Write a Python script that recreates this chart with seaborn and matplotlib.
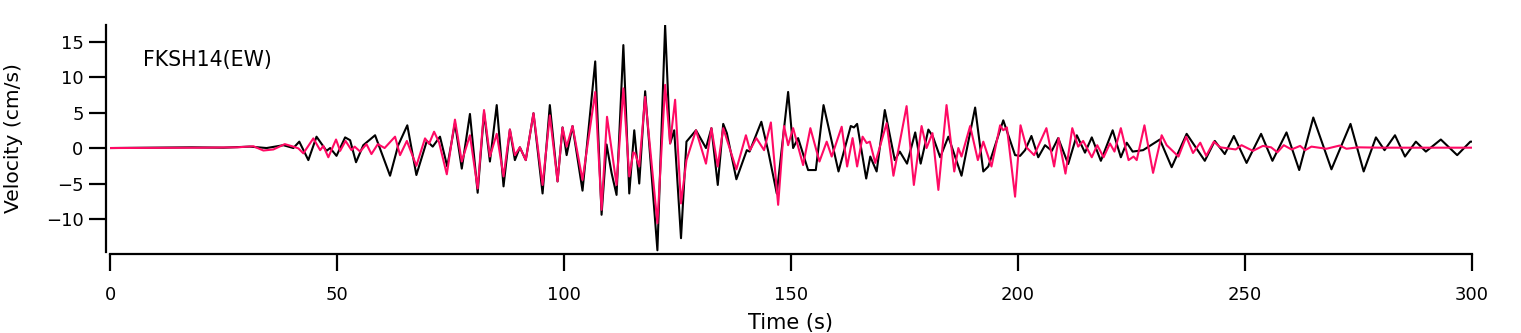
import numpy as np
import pandas as pd
import matplotlib
matplotlib.use("Agg")
import matplotlib.pyplot as plt
import seaborn as sns

# peaks / troughs (time s, velocity cm/s)
t_black = [0, 10, 18, 25, 30.8, 34.5, 38.2, 40.4, 41.7, 43.7, 45.5, 47.7, 48.5, 49.9,
           51.8, 52.9, 54.2, 55.8, 58.4, 61.7, 63.5, 65.5, 67.5, 69.8, 71.1, 72.7,
           74.3, 76.0, 77.5, 79.3, 81.0, 82.4, 83.7, 85.2, 86.7, 88.1, 89.2, 90.3,
           91.6, 93.3, 95.3, 96.9, 98.6, 99.7, 100.6, 101.9, 104.1, 106.9, 108.3,
           109.4, 110.5, 111.6, 113.1, 114.4, 115.5, 116.6, 117.9, 120.6, 122.3,
           123.4, 124.3, 125.8, 127.0, 129.1, 131.3, 132.5, 133.9, 135.1, 135.9,
           138.0, 140.3, 140.9, 143.5, 145.0, 146.9, 149.4, 150.5, 151.6, 153.8,
           155.5, 157.2, 160.5, 163.2, 163.9, 164.6, 166.6, 167.5, 168.9, 170.7,
           172.9, 174.0, 175.6, 177.4, 178.6, 180.3, 181.3, 182.9, 184.7, 187.6,
           190.6, 192.4, 193.5, 196.8, 199.4, 200.5, 201.6, 203.0, 204.5, 206.0,
           207.5, 208.9, 211.1, 213.0, 214.8, 216.3, 218.3, 220.9, 222.7, 224.0,
           225.3, 227.6, 231.3, 233.9, 237.2, 241.2, 243.4, 245.6, 247.6, 250.4,
           253.6, 256.1, 259.2, 262.0, 265.1, 269.1, 273.3, 276.2, 278.9, 280.8,
           283.1, 285.3, 287.7, 289.9, 293.2, 296.8, 299.7, 300]
v_black = [0, 0.05, 0.1, 0.05, 0.2, 0.0, 0.4, 0.0, 0.9, -1.7, 1.6, -0.4, 0.0, -1.1,
           1.5, 1.1, -2.0, 0.4, 1.8, -3.9, 0.4, 3.2, -3.8, 1.0, 0.2, 1.6,
           -2.6, 3.5, -2.9, 4.8, -6.3, 5.0, -1.9, 6.05, -5.4, 2.6, -1.7, 0.1,
           -1.7, 4.9, -6.4, 6.05, -4.7, 2.9, -1.0, 3.1, -6.0, 12.2, -9.4,
           0.5, -3.5, -6.6, 14.5, -6.4, 2.5, -5.0, 8.0, -14.4, 17.3,
           0.65, 2.5, -12.7, 0.9, 2.5, 0.0, 2.8, -5.2, 3.4, 2.1,
           -4.4, -0.3, -0.5, 3.7, -0.4, -6.4, 7.9, 0.0, 1.4, -3.1,
           -3.1, 6.05, -3.3, 3.1, 2.9, 3.4, -4.3, -1.2, -3.3, 5.35,
           -1.7, -0.5, -2.2, 2.2, -2.2, 2.6, 1.6, -1.3, 1.6, -3.9,
           5.7, -3.3, -2.6, 3.9, -1.0, -1.1, -0.3, 1.7, -1.3, 0.4,
           -0.4, 1.4, -2.25, 1.8, -0.65, 1.5, -1.8, 2.5, -1.3, 0.75,
           -0.5, -0.3, 1.2, -2.7, 2.0, -1.8, 1.0, -0.85, 1.7, -2.1,
           2.0, -1.8, 2.2, -3.1, 4.3, -3.0, 3.4, -3.3, 1.5, -0.3,
           1.8, -1.2, 0.9, -0.5, 1.2, -1.0, 0.9, 0.9]

t_pink = [0, 20, 28, 31.6, 33.8, 36.0, 38.5, 40.4, 41.5, 42.6, 44.8, 46.3, 47.0,
          48.1, 49.8, 50.7, 51.9, 53.2, 53.9, 55.1, 56.5, 57.6, 59.0, 60.5, 62.8,
          63.9, 65.4, 67.5, 69.4, 70.3, 71.4, 72.5, 74.2, 76.0, 77.5, 79.3, 81.0,
          82.4, 83.7, 85.2, 86.7, 88.1, 89.2, 90.3, 91.6, 93.3, 95.3, 96.9, 98.6,
          99.7, 100.6, 101.9, 104.1, 106.9, 108.3, 109.5, 111.6, 113.1, 114.4,
          115.3, 115.7, 116.6, 117.9, 120.6, 122.3, 123.4, 124.5, 125.8, 127.0,
          129.1, 131.3, 132.5, 133.9, 135.1, 138.0, 140.1, 141.0, 142.4, 144.1,
          145.6, 147.2, 148.5, 149.4, 150.5, 152.7, 154.3, 156.3, 157.9, 159.0,
          161.2, 162.4, 163.6, 164.6, 165.8, 166.7, 167.4, 168.6, 171.1, 172.6,
          175.5, 177.1, 178.8, 179.9, 181.2, 182.5, 184.3, 186.0, 186.9, 187.6,
          189.5, 191.2, 192.4, 194.2, 196.1, 196.8, 197.6, 199.4, 200.6, 201.9,
          203.6, 206.3, 208.0, 209.0, 210.5, 212.0, 213.3, 214.4, 216.3, 217.5,
          218.9, 220.3, 221.3, 222.7, 224.4, 225.5, 226.2, 227.9, 229.8, 231.7,
          232.8, 235.4, 237.1, 238.6, 240.2, 241.5, 243.2, 244.6, 248.0, 249.3,
          251.8, 254.0, 255.8, 257.2, 258.6, 260.3, 262.2, 263.3, 264.7, 268.0,
          270.9, 272.4, 275, 280, 290, 300]
v_pink = [0, 0.05, 0.1, 0.25, -0.35, -0.2, 0.55, 0.2, -0.05, -0.75, 1.36, -0.3, 0.3,
          -1.3, 1.2, -0.4, 1.0, -0.3, 0.2, -0.5, 0.55, -0.85, 0.55, 0.0, 1.6,
          -1.0, 1.0, -2.5, 1.36, 0.6, 2.3, 0.8, -3.7, 4.0, -1.9, 1.8, -5.7,
          5.35, -1.2, 2.0, -4.0, 2.6, -1.0, 0.1, -1.7, 4.9, -5.2, 4.6, -4.7,
          2.9, 0.2, 3.1, -4.5, 7.9, -8.7, 4.4, -5.2, 8.4, -4.0,
          -0.6, -0.8, -2.6, 7.2, -10.6, 8.9, 0.65, 6.8, -7.8, -1.7,
          2.5, -2.2, 2.8, -2.6, 2.8, -3.0, 1.8, -0.3, 1.4, -0.3,
          3.6, -8.0, 3.1, 0.4, 2.8, -2.4, 2.8, -1.9, 0.9, -1.2,
          3.0, -2.6, 1.4, -2.6, 1.6, 0.7, 0.9, -2.1, 3.5, -3.9,
          5.9, -5.2, 3.1, 0.0, 2.1, -5.9, 6.05, -3.3, 0.0, -1.2,
          3.1, -1.7, 0.9, -2.6, 3.2, 2.5, 2.9, -6.85, 3.2, 0.1,
          -1.0, 2.8, -2.6, 1.4, -3.6, 2.8, 0.2, 1.0, -1.3, 0.4,
          -1.3, 0.65, -0.5, 2.8, -1.7, -1.2, -1.7, 3.2, -3.5, 1.8,
          0.4, -1.2, 1.6, -0.7, 0.75, -1.1, 0.9, 0.1, -0.2, 0.4,
          -0.4, 0.3, 0.1, -0.6, 0.4, -0.2, 0.3, -0.3, 0.2, -0.1,
          0.35, -0.1, 0.1, 0.05, 0.05, 0.05]

station = "FKSH14(EW)"
x_ticks = [0, 50, 100, 150, 200, 250, 300]
y_ticks = [-10, -5, 0, 5, 10, 15]

df_black = pd.DataFrame({"t": t_black, "v": v_black})
df_pink = pd.DataFrame({"t": t_pink, "v": v_pink})

sns.set_style("ticks")
plt.rcParams["font.family"] = ["DejaVu Sans"]
plt.rcParams["text.color"] = "black"
plt.rcParams["axes.labelcolor"] = "black"

fig = plt.figure(figsize=(15.21, 3.33), dpi=100)
ax = fig.add_axes([110 / 1521, 81.3 / 333, 1361.7 / 1521, 226.5 / 333])

sns.lineplot(data=df_black, x="t", y="v", ax=ax, color="black", lw=1.5,
             sort=False, estimator=None)
sns.lineplot(data=df_pink, x="t", y="v", ax=ax, color="#ff0a64", lw=1.5,
             sort=False, estimator=None)

ax.set_xlim(0, 300)
ax.set_ylim(-14.6, 17.3)
ax.set_xticks(x_ticks)
ax.set_yticks(y_ticks)
ax.tick_params(axis="both", direction="out", length=12, width=1.6,
               labelsize=13, colors="black")
ax.tick_params(axis="x", pad=10.8)
ax.tick_params(axis="y", pad=4)

for s in ["top", "right"]:
    ax.spines[s].set_visible(False)
ax.spines["left"].set_position(("outward", 3))
ax.spines["bottom"].set_position(("outward", 2))
ax.spines["left"].set_linewidth(1.6)
ax.spines["bottom"].set_linewidth(1.6)
ax.spines["left"].set_color("black")
ax.spines["bottom"].set_color("black")

ax.set_xlabel("Time (s)", fontsize=15)
ax.set_ylabel("Velocity (cm/s)", fontsize=14.6)
ax.xaxis.set_label_coords(0.5, -0.27)
ax.yaxis.set_label_coords(-0.064, 0.5)

ax.text(0.0242, 0.846, station, transform=ax.transAxes, fontsize=14.8,
        va="center", ha="left")

fig.savefig("out.png", dpi=100)
